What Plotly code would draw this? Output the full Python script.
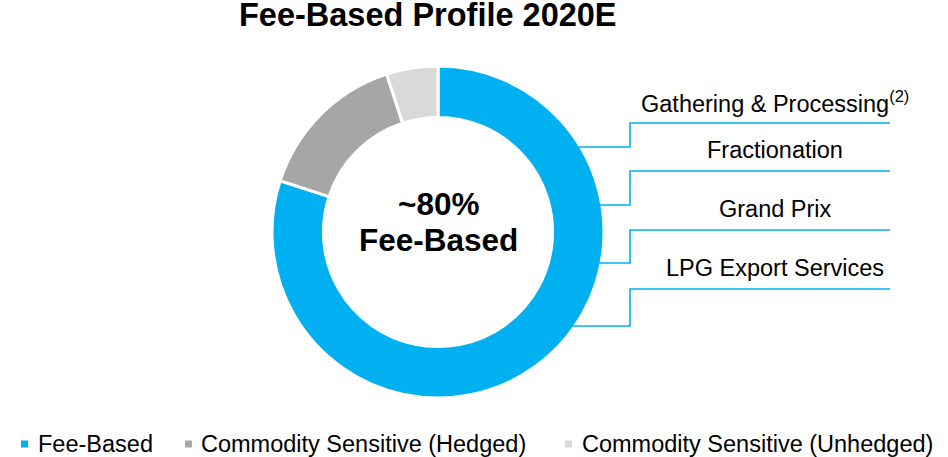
import math
import plotly.graph_objects as go

# ---- data ----
segments = ["Fee-Based", "Commodity Sensitive (Hedged)", "Commodity Sensitive (Unhedged)"]
shares = [80, 15, 5]
colors = ["#00B0F0", "#A6A6A6", "#D9D9D9"]
business_lines = ["Gathering & Processing<sup>(2)</sup>", "Fractionation", "Grand Prix", "LPG Export Services"]
title_text = "Fee-Based Profile 2020E"
center_lines = ["~80%", "Fee-Based"]

# ---- layout geometry (page pixels) ----
W, H = 948, 457
cx, cy, R = 438, 232, 166
hole = 0.69
FONT = "Arial, Liberation Sans, sans-serif"
BLUE = "#00B0F0"

fig = go.Figure()
fig.add_trace(go.Pie(
    labels=segments, values=shares, hole=hole, sort=False,
    direction="clockwise", rotation=0,
    marker=dict(colors=colors, line=dict(color="white", width=3)),
    textinfo="none", hoverinfo="label+percent", showlegend=False,
    domain=dict(x=[(cx - R) / W, (cx + R) / W],
                y=[1 - (cy + R) / H, 1 - (cy - R) / H]),
))

shapes = []
annotations = []

# connector brackets to business lines
line_tops = [123, 171, 230, 289]
line_joins = [147, 205, 263, 326]
x_step = 630
x_end = 890
for name, yt, yj in zip(business_lines, line_tops, line_joins):
    xs = cx + math.sqrt(max(R * R - (yj - cy) ** 2, 0)) - 2
    shapes.append(dict(type="path", xref="x", yref="y",
                       path=f"M {xs},{yj} L {x_step},{yj} L {x_step},{yt} L {x_end},{yt}",
                       line=dict(color=BLUE, width=1.6)))
    annotations.append(dict(x=775, y=yt - 21, xref="x", yref="y", text=name, showarrow=False,
                            xanchor="center", yanchor="middle",
                            font=dict(family=FONT, size=23.5, color="#000000")))

# title
annotations.append(dict(x=428, y=15, xref="x", yref="y", text=f"<b>{title_text}</b>", showarrow=False,
                        xanchor="center", yanchor="middle",
                        font=dict(family=FONT, size=32.5, color="#000000")))
# center text
for txt, yy in zip(center_lines, [204, 240]):
    annotations.append(dict(x=cx, y=yy, xref="x", yref="y", text=f"<b>{txt}</b>", showarrow=False,
                            xanchor="center", yanchor="middle",
                            font=dict(family=FONT, size=31.5, color="#000000")))

# custom legend
marker_x = [21, 185, 565]
text_x = [36, 199, 580]
ly = 444
for name, col, mx, tx in zip(segments, colors, marker_x, text_x):
    shapes.append(dict(type="rect", xref="x", yref="y", x0=mx, x1=mx + 7, y0=ly - 3.5, y1=ly + 3.5,
                       fillcolor=col, line=dict(width=0)))
    annotations.append(dict(x=tx, y=ly, xref="x", yref="y", text=name, showarrow=False,
                            xanchor="left", yanchor="middle",
                            font=dict(family=FONT, size=23.5, color="#000000")))

fig.update_layout(
    width=W, height=H, autosize=False,
    margin=dict(l=0, r=0, t=0, b=0),
    paper_bgcolor="white", plot_bgcolor="white",
    xaxis=dict(range=[0, W], visible=False, fixedrange=True, domain=[0, 1]),
    yaxis=dict(range=[H, 0], visible=False, fixedrange=True, domain=[0, 1]),
    shapes=shapes, annotations=annotations, showlegend=False,
)

fig.write_html(
    "out.html",
    config={"displayModeBar": False},
    post_script="document.body.style.margin='0';document.body.style.overflow='hidden';",
)
